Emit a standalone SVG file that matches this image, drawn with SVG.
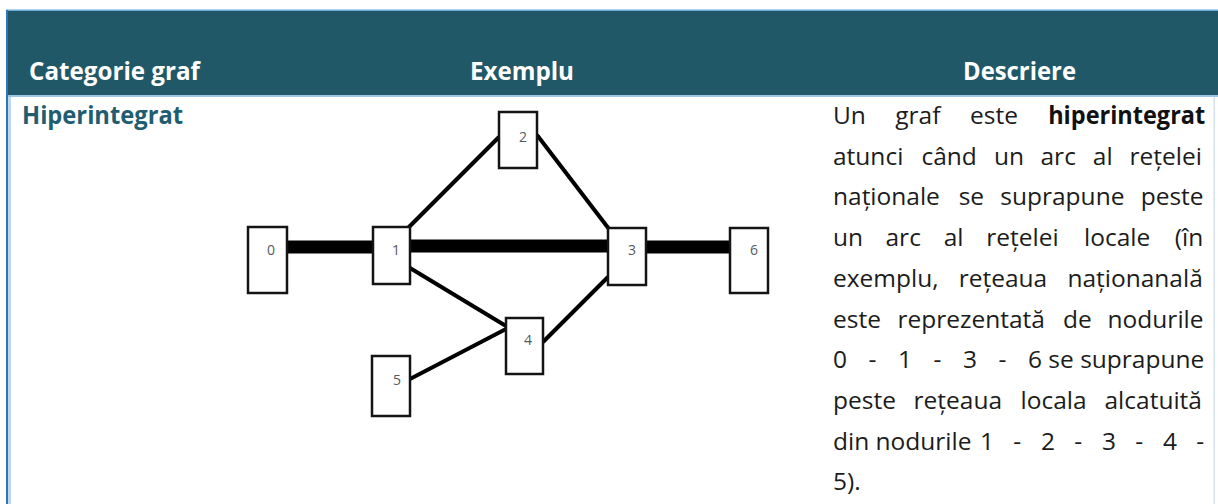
<svg xmlns="http://www.w3.org/2000/svg" width="1218" height="504" viewBox="0 0 1218 504">
<style>
.hd{font-family:"Open Sans","Noto Sans","Liberation Sans",sans-serif;font-weight:700;font-size:24.5px;fill:#ffffff}
.cat{font-family:"Open Sans","Noto Sans","Liberation Sans",sans-serif;font-weight:700;font-size:24.5px;fill:#215d70}
.tx{font-family:"Open Sans","Noto Sans","Liberation Sans",sans-serif;font-size:24.5px;fill:#1c1c1c}
.txb{font-family:"Open Sans","Noto Sans","Liberation Sans",sans-serif;font-weight:700;font-size:24.5px;fill:#111111}
.box{fill:#ffffff;stroke:#141414;stroke-width:2.5}
.lbl{font-family:"Open Sans","Noto Sans","Liberation Sans",sans-serif;font-size:14px;fill:#555a60;text-anchor:middle}
.thick{stroke:#000000;stroke-width:13;fill:none}
.thin{stroke:#000000;stroke-width:4;fill:none;stroke-linecap:butt}
</style>
<rect x="0" y="0" width="1218" height="504" fill="#ffffff"/>
<g id="table">
<rect x="6" y="10" width="1212" height="85" fill="#215868"/>
<rect x="6" y="9.5" width="1212" height="1.5" fill="#6fa8dc"/>
<rect x="6" y="95" width="1212" height="2" fill="#9dc3e6"/>
<rect x="6" y="10" width="2" height="494" fill="#2e75b6"/>
<rect x="8" y="97" width="3" height="407" fill="#bdd7ee"/>
<rect x="1213.5" y="97" width="1.5" height="407" fill="#d5e1ec"/>
<text class="hd" x="29" y="80" textLength="171" lengthAdjust="spacingAndGlyphs">Categorie graf</text>
<text class="hd" x="470" y="80" textLength="104" lengthAdjust="spacingAndGlyphs">Exemplu</text>
<text class="hd" x="963" y="80" textLength="113" lengthAdjust="spacingAndGlyphs">Descriere</text>
<text class="cat" x="22" y="124" textLength="161" lengthAdjust="spacingAndGlyphs">Hiperintegrat</text>
</g>
<g id="connectors">
<line class="thick" x1="287" y1="247" x2="373" y2="247"/>
<line class="thick" x1="410" y1="246" x2="608" y2="246"/>
<line class="thick" x1="646" y1="247" x2="730" y2="247"/>
<line class="thin" x1="408" y1="228" x2="499" y2="137"/>
<line class="thin" x1="537" y1="135" x2="609" y2="229"/>
<line class="thin" x1="410" y1="268" x2="506" y2="326"/>
<line class="thin" x1="608" y1="277" x2="543" y2="342"/>
<line class="thin" x1="410" y1="379" x2="506" y2="329"/>
</g>
<g id="node0"><rect class="box" x="248" y="227" width="39" height="66"/><text class="lbl" x="271" y="255">0</text></g>
<g id="node1"><rect class="box" x="373" y="227" width="37" height="57"/><text class="lbl" x="396" y="255">1</text></g>
<g id="node2"><rect class="box" x="499" y="112" width="38" height="56"/><text class="lbl" x="523" y="142">2</text></g>
<g id="node3"><rect class="box" x="608" y="228" width="38" height="57"/><text class="lbl" x="632" y="255">3</text></g>
<g id="node6"><rect class="box" x="730" y="228" width="38" height="65"/><text class="lbl" x="754" y="255">6</text></g>
<g id="node4"><rect class="box" x="506" y="318" width="37" height="56"/><text class="lbl" x="528" y="345">4</text></g>
<g id="node5"><rect class="box" x="372" y="356" width="38" height="60"/><text class="lbl" x="397" y="385">5</text></g>
<g id="description">
<text class="tx" y="124"><tspan x="833">Un</tspan><tspan x="895.3">graf</tspan><tspan x="970.1">este</tspan></text>
<text class="txb" x="1048.2" y="124" textLength="157" lengthAdjust="spacingAndGlyphs">hiperintegrat</text>
<text class="tx" y="164.7"><tspan x="833">atunci</tspan><tspan x="921.5">când</tspan><tspan x="993.9">un</tspan><tspan x="1040.5">arc</tspan><tspan x="1092.8">al</tspan><tspan x="1129.6">rețelei</tspan></text>
<text class="tx" y="205.4"><tspan x="833">naționale</tspan><tspan x="958.7">se</tspan><tspan x="1000.3">suprapune</tspan><tspan x="1140.7">peste</tspan></text>
<text class="tx" y="246.1"><tspan x="833">un</tspan><tspan x="885.5">arc</tspan><tspan x="943.7">al</tspan><tspan x="986.3">rețelei</tspan><tspan x="1084.1">locale</tspan><tspan x="1174.8">(în</tspan></text>
<text class="tx" y="286.8"><tspan x="833">exemplu,</tspan><tspan x="958.7">rețeaua</tspan><tspan x="1067.4">naționanală</tspan></text>
<text class="tx" y="327.5"><tspan x="833">este</tspan><tspan x="897.4">reprezentată</tspan><tspan x="1063.1">de</tspan><tspan x="1107.6">nodurile</tspan></text>
<text class="tx" y="368.2"><tspan x="833">0</tspan><tspan x="868.4">-</tspan><tspan x="898">1</tspan><tspan x="933.4">-</tspan><tspan x="963">3</tspan><tspan x="998.4">-</tspan><tspan x="1028">6 se suprapune</tspan></text>
<text class="tx" y="408.9"><tspan x="833">peste</tspan><tspan x="913.6">rețeaua</tspan><tspan x="1020.5">locala</tspan><tspan x="1104.5">alcatuită</tspan></text>
<text class="tx" y="449.6"><tspan x="833">din nodurile</tspan><tspan x="980">1</tspan><tspan x="1013.3">-</tspan><tspan x="1040.9">2</tspan><tspan x="1074.3">-</tspan><tspan x="1101.9">3</tspan><tspan x="1135.3">-</tspan><tspan x="1162.9">4</tspan><tspan x="1196.2">-</tspan></text>
<text class="tx" y="490.3"><tspan x="833">5).</tspan></text>
</g>
</svg>
